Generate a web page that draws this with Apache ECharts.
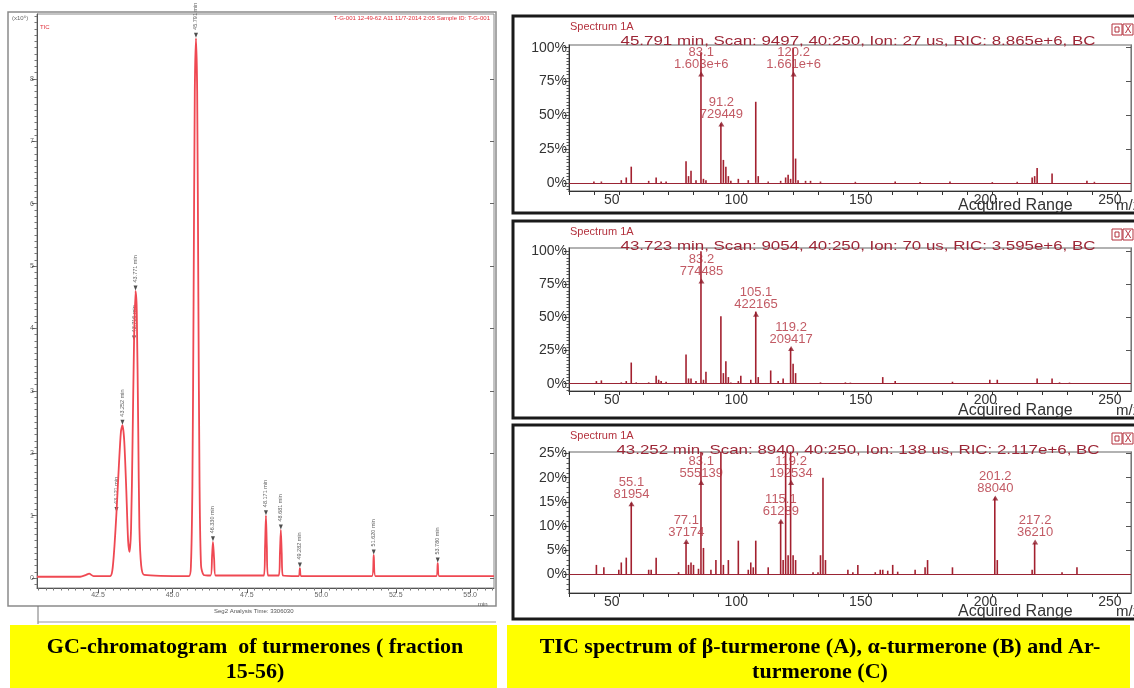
<!DOCTYPE html>
<html>
<head>
<meta charset="utf-8">
<script src="https://cdn.jsdelivr.net/npm/echarts@6/dist/echarts.min.js"></script>
<style>
  html, body { margin: 0; background: #fff; }
  #chart { width: 1134px; height: 688px; }
</style>
</head>
<body>
<div id="chart"></div>
<script>
// GC trace: [retention time (min), signal]
const gcTrace = [
  [40.45, 0.02], [41.9, 0.02], [42.1, 0.05], [42.2, 0.07], [42.35, 0.03], [42.9, 0.03],
  [42.98, 0.12], [43.05, 0.5], [43.12, 1.05], [43.2, 1.8], [43.27, 2.35], [43.32, 2.45],
  [43.38, 2.2], [43.45, 1.4], [43.51, 0.6], [43.56, 0.42], [43.61, 0.8], [43.66, 2.2],
  [43.71, 3.8], [43.76, 4.6], [43.8, 4.3], [43.85, 2.4], [43.89, 0.8], [43.95, 0.2],
  [44.05, 0.05], [45.55, 0.03], [45.62, 0.2], [45.67, 1.5], [45.71, 4.5], [45.75, 7.8],
  [45.79, 8.65], [45.83, 7.8], [45.87, 4.5], [45.91, 1.5], [45.96, 0.2], [46.05, 0.05],
  [46.28, 0.04], [46.33, 0.35], [46.36, 0.58], [46.4, 0.3], [46.45, 0.04],
  [48.07, 0.04], [48.11, 0.5], [48.14, 1.0], [48.17, 0.5], [48.21, 0.04],
  [48.57, 0.04], [48.61, 0.4], [48.64, 0.77], [48.67, 0.4], [48.71, 0.04],
  [49.23, 0.03], [49.28, 0.16], [49.33, 0.03],
  [51.7, 0.03], [51.76, 0.37], [51.82, 0.03],
  [53.86, 0.03], [53.91, 0.24], [53.96, 0.03], [55.8, 0.03]
];
const gcPeaks = [
  [43.12, 1.05, '43.121 min'], [43.32, 2.45, '43.252 min'], [43.71, 3.8, '43.716 min'],
  [43.76, 4.6, '43.771 min'], [45.79, 8.65, '45.791 min'], [46.36, 0.58, '46.330 min'],
  [48.14, 1.0, '48.171 min'], [48.64, 0.77, '48.681 min'], [49.28, 0.16, '49.282 min'],
  [51.76, 0.37, '51.620 min'], [53.91, 0.24, '53.780 min']
];
const gcXTicks = [42.5, 45, 47.5, 50, 52.5, 55];
const gcYTicks = [0, 1, 2, 3, 4, 5, 6, 7, 8];

// mass spectra: [m/z, relative abundance %]
const specA = [
  [40, 1], [43, 1], [51, 2], [53, 4], [55, 12], [62, 1.5], [65, 4], [67, 1], [69, 1],
  [77, 16], [78, 5], [79, 9], [81, 2], [83, 96.5], [84, 3], [85, 2], [91, 43.9], [92, 17],
  [93, 12], [94, 5], [95, 1.5], [98, 3], [102, 2], [105, 60], [106, 5], [110, 1], [115, 1.5],
  [117, 4], [118, 6], [119, 3], [120, 100], [121, 18], [122, 2], [125, 1.5], [127, 1.5],
  [131, 1], [145, 0.8], [161, 1], [171, 0.6], [183, 1], [200, 0.6], [210, 0.8], [216, 4],
  [217, 5], [218, 11], [224, 7], [238, 1.5], [241, 0.8]
];
const specB = [
  [41, 2], [43, 2.5], [51, 1], [53, 2], [55, 16], [57, 1], [62, 1], [65, 6], [66, 3], [67, 2],
  [69, 1.5], [77, 22], [78, 4], [79, 4], [81, 2], [83, 100], [84, 3], [85, 9], [91, 51], [92, 8],
  [93, 17], [94, 5], [95, 1], [98, 2], [99, 6], [103, 3], [105, 54.5], [106, 5], [111, 10],
  [114, 2], [116, 4], [119, 27], [120, 15], [121, 8], [131, 1], [141, 1], [143, 0.8], [156, 5],
  [161, 2], [184, 1.5], [199, 3], [202, 3], [218, 4], [224, 4], [227, 1], [231, 0.8]
];
const specC = [
  [41, 2], [44, 1.5], [50, 1], [51, 2.5], [53, 3.5], [55, 14.8], [62, 1], [63, 1], [65, 3.5],
  [74, 0.5], [77, 6.7], [78, 2], [79, 2.5], [80, 2], [82, 1.2], [83, 100], [84, 5.5], [87, 1],
  [89, 3], [91, 40], [92, 2], [94, 3], [98, 7], [102, 1], [103, 2.5], [104, 1.5], [105, 7],
  [110, 1.5], [115, 11], [116, 3], [117, 27], [118, 4], [119, 34.7], [120, 4], [121, 3],
  [128, 0.5], [130, 0.5], [131, 4], [132, 20], [133, 3], [142, 1], [144, 0.5], [146, 2],
  [153, 0.5], [155, 1], [156, 1], [158, 0.8], [160, 2], [162, 0.6], [169, 1], [173, 1.5],
  [174, 3], [184, 1.5], [201, 15.9], [202, 3], [216, 1], [217, 6.5], [228, 0.5], [234, 1.5]
];
// labelled peaks: [m/z, marker height %, intensity text]
const peaksA = [[83.1, 79, '1.603e+6'], [91.2, 42, '729449'], [120.2, 79, '1.661e+6']];
const peaksB = [[83.2, 76, '774485'], [105.1, 51, '422165'], [119.2, 25, '209417']];
const peaksC = [
  [55.1, 14.2, '81954'], [77.1, 6.4, '37174'], [83.1, 18.6, '555139'], [115.1, 10.6, '61289'],
  [119.2, 18.6, '192534'], [201.2, 15.4, '88040'], [217.2, 6.3, '36210']
];
const specInfo = [
  '45.791 min, Scan: 9497, 40:250, Ion: 27 us, RIC: 8.865e+6, BC',
  '43.723 min, Scan: 9054, 40:250, Ion: 70 us, RIC: 3.595e+6, BC',
  '43.252 min, Scan: 8940, 40:250, Ion: 138 us, RIC: 2.117e+6, BC'
];
const specXTicks = [30, 40, 50, 60, 70, 80, 90, 100, 110, 120, 130, 140, 150, 160, 170, 180, 190, 200, 210, 220, 230, 240, 250];
const specXLabels = [50, 100, 150, 200, 250];
const specYLabels = [[0, 25, 50, 75, 100], [0, 25, 50, 75, 100], [0, 5, 10, 15, 20, 25]];

const steps = (a, b, s) => {
  const out = [];
  for (let v = a; v <= b + 1e-9; v += s) out.push(+v.toFixed(3));
  return out;
};
const gcXMinor = steps(40.5, 55.75, 0.25);
const gcYMinor = steps(-0.1, 9.0, 0.1);
const specYMinor = [steps(-5, 100, 2.5), steps(-5, 100, 2.5), steps(-3, 25, 1)];

const RED = '#b3313d';
const chart = echarts.init(document.getElementById('chart'));

const specGrids = [
  { top: 45, height: 146, min: -6, max: 102 },
  { top: 248, height: 143, min: -5.5, max: 102.5 },
  { top: 452, height: 141, min: -3.8, max: 25.3 }
];
const specData = [specA, specB, specC];
const specPeaks = [peaksA, peaksB, peaksC];
const boxTops = [16, 221, 425];
const boxBottoms = [213, 418, 619];

const grid = [{ left: 37, top: 14, width: 457, height: 574, show: true, borderColor: '#888', borderWidth: 1 }];
specGrids.forEach(g => grid.push({ left: 569, top: g.top, width: 562, height: g.height, show: true, borderColor: '#999', borderWidth: 1.5 }));

const xAxis = [
  {
    gridIndex: 0, type: 'value', min: 40.45, max: 55.8, position: 'bottom',
    axisLine: { onZero: false, lineStyle: { color: '#555' } },
    axisTick: { customValues: gcXTicks, length: 5, lineStyle: { color: '#555' } },
    axisLabel: { customValues: gcXTicks, formatter: v => v.toFixed(1), fontSize: 7, color: '#666', margin: 4 },
    splitLine: { show: false }
  },
  {
    gridIndex: 0, type: 'value', min: 40.45, max: 55.8, position: 'bottom',
    axisLine: { show: false, onZero: false },
    axisTick: { customValues: gcXMinor, length: 2.5, lineStyle: { color: '#777' } },
    axisLabel: { show: false }, splitLine: { show: false }
  }
];
const yAxis = [
  {
    gridIndex: 0, type: 'value', min: -0.16, max: 9.04, position: 'left',
    axisLine: { show: true, onZero: false, lineStyle: { color: '#555' } },
    axisTick: { customValues: gcYTicks, length: 5, lineStyle: { color: '#555' } },
    axisLabel: { customValues: gcYTicks, fontSize: 7, color: '#666', margin: 3 },
    splitLine: { show: false }
  },
  {
    gridIndex: 0, type: 'value', min: -0.16, max: 9.04, position: 'left',
    axisLine: { show: false, onZero: false },
    axisTick: { customValues: gcYMinor, length: 2.5, lineStyle: { color: '#777' } },
    axisLabel: { show: false }, splitLine: { show: false }
  },
  {
    gridIndex: 0, type: 'value', min: -0.16, max: 9.04, position: 'right',
    axisLine: { show: false, onZero: false },
    axisTick: { customValues: gcYTicks, length: 4, inside: true, lineStyle: { color: '#666' } },
    axisLabel: { show: false }, splitLine: { show: false }
  }
];

const series = [
  {
    type: 'line', xAxisIndex: 0, yAxisIndex: 0, data: gcTrace, showSymbol: false,
    smooth: 0.25, lineStyle: { color: '#ef4852', width: 1.8 }, silent: true
  },
  {
    type: 'scatter', xAxisIndex: 0, yAxisIndex: 0,
    data: gcPeaks.map(p => ({ value: [p[0], p[1]], name: p[2] })),
    symbol: 'triangle', symbolRotate: 180, symbolSize: [4, 5], symbolOffset: [0, -3],
    itemStyle: { color: '#222' },
    label: {
      show: true, formatter: '{b}', position: 'top', distance: 3, rotate: 90,
      align: 'left', verticalAlign: 'middle', fontSize: 5.5, color: '#333',
      fontFamily: 'Liberation Sans'
    }
  }
];

specGrids.forEach((g, i) => {
  const gi = i + 1;
  xAxis.push({
    gridIndex: gi, type: 'value', min: 30, max: 255.7, position: 'bottom',
    axisLine: { onZero: false, lineStyle: { color: '#333' } },
    axisTick: { customValues: specXTicks, length: 4, lineStyle: { color: '#333' } },
    axisLabel: {
      customValues: specXLabels, fontSize: 14, color: '#333', margin: 2,
      padding: [0, 14, 0, 0], fontFamily: 'Liberation Sans'
    },
    splitLine: { show: false }
  });
  const xi = xAxis.length - 1;
  yAxis.push({
    gridIndex: gi, type: 'value', min: g.min, max: g.max, position: 'left',
    axisLine: { show: true, onZero: false, lineStyle: { color: '#333' } },
    axisTick: { customValues: specYLabels[i], length: 5, lineStyle: { color: '#333' } },
    axisLabel: { customValues: specYLabels[i], formatter: '{value}%', fontSize: 14, color: '#333', margin: 2, fontFamily: 'Liberation Sans' },
    splitLine: { show: false }
  });
  const yi = yAxis.length - 1;
  yAxis.push({
    gridIndex: gi, type: 'value', min: g.min, max: g.max, position: 'left',
    axisLine: { show: false, onZero: false },
    axisTick: { customValues: specYMinor[i], length: 2.5, lineStyle: { color: '#555' } },
    axisLabel: { show: false }, splitLine: { show: false }
  });
  yAxis.push({
    gridIndex: gi, type: 'value', min: g.min, max: g.max, position: 'right',
    axisLine: { show: true, onZero: false, lineStyle: { color: '#777' } },
    axisTick: { customValues: specYLabels[i], length: 5, inside: true, lineStyle: { color: '#555' } },
    axisLabel: { show: false }, splitLine: { show: false }
  });
  series.push({
    type: 'bar', xAxisIndex: xi, yAxisIndex: yi, data: specData[i], barWidth: 1.6,
    itemStyle: { color: '#a3202f' }, silent: true,
    markLine: {
      silent: true, symbol: 'none', label: { show: false },
      lineStyle: { color: '#9a2434', width: 1, type: 'solid' },
      data: [{ yAxis: 0 }]
    }
  });
  series.push({
    type: 'scatter', xAxisIndex: xi, yAxisIndex: yi,
    data: specPeaks[i].map(p => ({ value: [p[0], p[1]], name: p[0].toFixed(1) + '\n' + p[2] })),
    symbol: 'triangle', symbolSize: [6, 5], symbolOffset: [0, -2],
    itemStyle: { color: '#8e1b2a' },
    label: {
      show: true, formatter: '{b}', position: 'top', distance: 1,
      fontSize: 13, lineHeight: 12, color: RED, fontFamily: 'Liberation Sans'
    }
  });
});

const graphic = [
  // chromatogram frame
  { type: 'rect', shape: { x: 8, y: 12, width: 488, height: 594 }, style: { fill: 'none', stroke: '#8a8a8a', lineWidth: 1.5 } },
  { type: 'line', shape: { x1: 38, y1: 606, x2: 38, y2: 624 }, style: { stroke: '#777', lineWidth: 1 } },
  { type: 'line', shape: { x1: 38, y1: 622, x2: 496, y2: 622 }, style: { stroke: '#999', lineWidth: 1 } },
  { type: 'text', x: 214, y: 611, style: { text: 'Seg2 Analysis Time: 3306030', font: '6px Liberation Sans', fill: '#555', textVerticalAlign: 'middle' } },
  { type: 'text', x: 478, y: 601, style: { text: 'min', font: '6px Liberation Sans', fill: '#555' } },
  { type: 'text', x: 12, y: 18, style: { text: '(x10⁶)', font: '6px Liberation Sans', fill: '#666', textVerticalAlign: 'middle' } },
  { type: 'text', x: 40, y: 27, style: { text: 'TIC', font: '6px Liberation Sans', fill: '#e0303c', textVerticalAlign: 'middle' } },
  { type: 'text', x: 490, y: 18, style: { text: 'T-G-001 12-49-62 A11 11/7-2014 2:05 Sample ID: T-G-001', font: '6px Liberation Sans', fill: '#e0303c', textAlign: 'right', textVerticalAlign: 'middle' } },
  // captions
  { type: 'rect', shape: { x: 10, y: 625, width: 487, height: 63 }, style: { fill: '#ffff00' } },
  { type: 'rect', shape: { x: 507, y: 625, width: 623, height: 63 }, style: { fill: '#ffff00' } },
  { type: 'text', x: 255, y: 647, style: { text: 'GC-chromatogram  of turmerones ( fraction', font: 'bold 22px Liberation Serif', fill: '#000', textAlign: 'center', textVerticalAlign: 'middle' } },
  { type: 'text', x: 255, y: 672, style: { text: '15-56)', font: 'bold 22px Liberation Serif', fill: '#000', textAlign: 'center', textVerticalAlign: 'middle' } },
  { type: 'text', x: 820, y: 647, style: { text: 'TIC spectrum of β-turmerone (A), α-turmerone (B) and Ar-', font: 'bold 22px Liberation Serif', fill: '#000', textAlign: 'center', textVerticalAlign: 'middle' } },
  { type: 'text', x: 820, y: 672, style: { text: 'turmerone (C)', font: 'bold 22px Liberation Serif', fill: '#000', textAlign: 'center', textVerticalAlign: 'middle' } }
];
boxTops.forEach((t, i) => {
  graphic.push({ type: 'rect', shape: { x: 513, y: t, width: 630, height: boxBottoms[i] - t }, style: { fill: 'none', stroke: '#1a1a1a', lineWidth: 3 } });
  graphic.push({ type: 'text', x: 570, y: t + 11, style: { text: 'Spectrum 1A', font: '11px Liberation Sans', fill: RED, textVerticalAlign: 'middle' } });
  graphic.push({ type: 'text', x: 858, y: t + 25, scaleX: 1.3, style: { text: specInfo[i], font: '13px Liberation Sans', fill: '#9c2636', textAlign: 'center', textVerticalAlign: 'middle' } });
  graphic.push({ type: 'rect', shape: { x: 1112, y: t + 8, width: 10, height: 11 }, style: { fill: '#fff', stroke: RED, lineWidth: 1 } });
  graphic.push({ type: 'rect', shape: { x: 1115, y: t + 11, width: 4, height: 5 }, style: { fill: 'none', stroke: RED, lineWidth: 1 } });
  graphic.push({ type: 'rect', shape: { x: 1123, y: t + 8, width: 10, height: 11 }, style: { fill: '#fff', stroke: RED, lineWidth: 1 } });
  graphic.push({ type: 'text', x: 1128, y: t + 14, style: { text: 'X', font: '10px Liberation Sans', fill: RED, textAlign: 'center', textVerticalAlign: 'middle' } });
  graphic.push({ type: 'text', x: 958, y: boxBottoms[i] - 7, style: { text: 'Acquired Range', font: '16px Liberation Sans', fill: '#333', textVerticalAlign: 'middle' } });
  graphic.push({ type: 'text', x: 1116, y: boxBottoms[i] - 7, style: { text: 'm/z', font: '15px Liberation Sans', fill: '#333', textVerticalAlign: 'middle' } });
});

chart.setOption({
  animation: false,
  backgroundColor: '#fff',
  textStyle: { fontFamily: 'Liberation Sans' },
  grid, xAxis, yAxis, series, graphic
});
</script>
</body>
</html>
